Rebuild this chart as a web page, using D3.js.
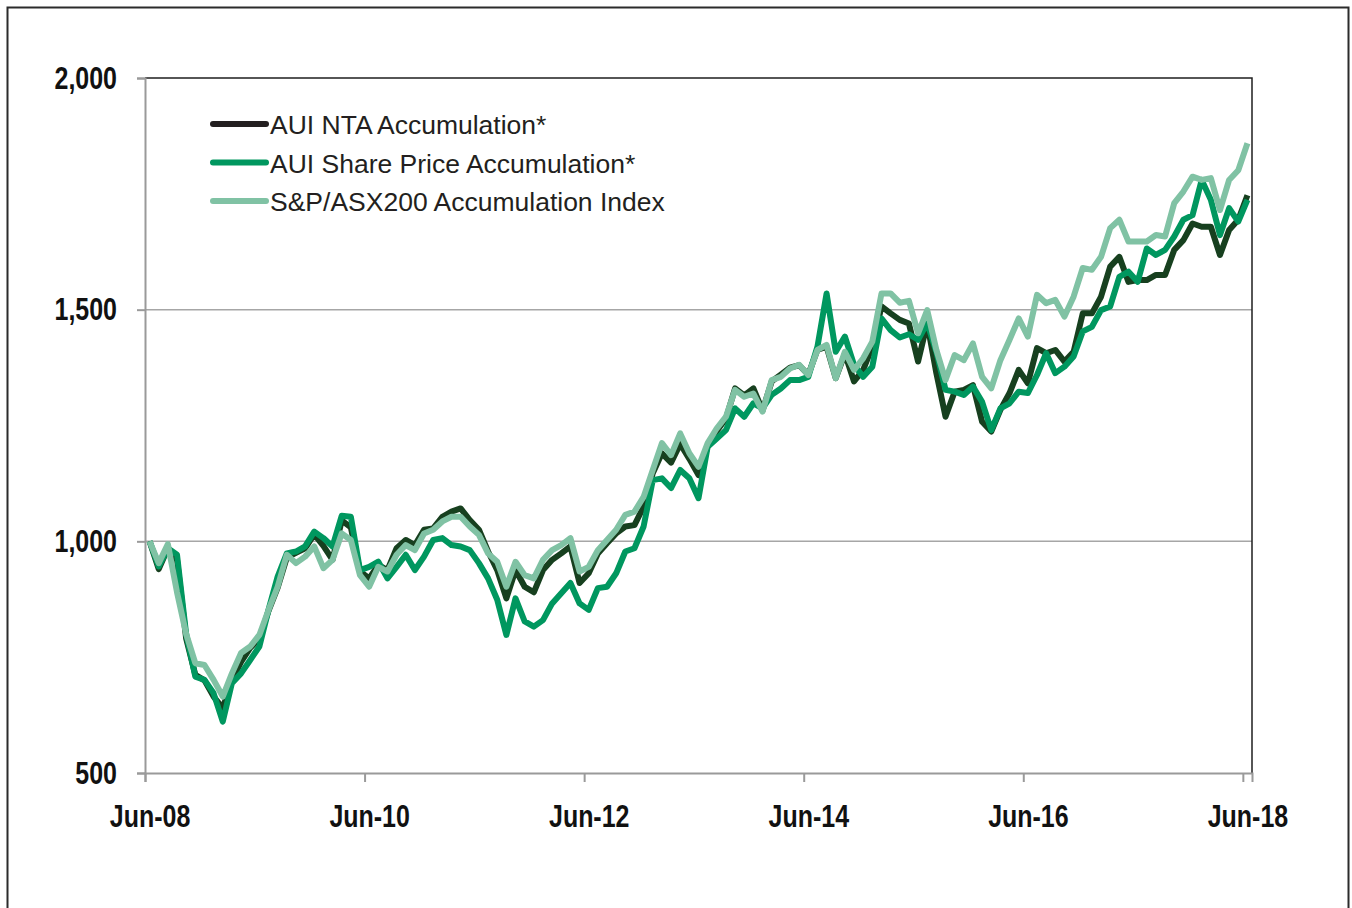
<!DOCTYPE html>
<html>
<head>
<meta charset="utf-8">
<script src="https://cdn.jsdelivr.net/npm/d3@7"></script>
<style>
    body { margin: 0; background: #fff; }
</style>
</head>
<body>
<div id="chart"></div>
<script>
// monthly values, Jun-08 .. Jun-18, rebased to 1,000
const ntaAccum = [
    1000, 940, 985, 960, 790, 712, 700, 665, 640, 700, 740, 770, 790, 850, 900, 965, 975, 985, 1015, 990,
    960, 1045, 1030, 935, 920, 949, 938, 985, 1003, 992, 1025, 1028, 1053, 1064, 1071, 1046, 1025, 978, 938, 877,
    938, 902, 890, 938, 960, 974, 989, 910, 931, 974, 996, 1017, 1032, 1035, 1075, 1147, 1190, 1170, 1210, 1178,
    1143, 1204, 1238, 1265, 1330, 1315, 1330, 1282, 1345, 1360, 1375, 1380, 1360, 1413, 1420, 1352, 1405, 1345, 1370, 1420,
    1507, 1492, 1478, 1470, 1388, 1471, 1363, 1269, 1323, 1327, 1337, 1258, 1237, 1284, 1320, 1370, 1341, 1417, 1406, 1413,
    1388, 1409, 1492, 1492, 1528, 1593, 1614, 1560, 1564, 1564, 1575, 1575, 1629, 1650, 1686, 1679, 1679, 1618, 1672, 1694,
    1747
];
const sharePriceAccum = [
    1000, 946, 985, 971, 800, 708, 701, 672, 611, 694, 715, 744, 773, 852, 924, 974, 978, 989, 1021, 1007,
    989, 1055, 1053, 938, 945, 956, 920, 945, 971, 938, 967, 1003, 1007, 992, 989, 981, 953, 920, 874, 798,
    877, 827, 816, 830, 866, 888, 910, 866, 852, 899, 902, 931, 978, 985, 1032, 1132, 1136, 1115, 1154, 1136,
    1093, 1204, 1222, 1240, 1287, 1269, 1298, 1287, 1316, 1330, 1348, 1348, 1355, 1420, 1535, 1409, 1442, 1381, 1355, 1377,
    1481, 1456, 1440, 1447, 1435, 1471, 1409, 1327, 1323, 1316, 1334, 1301, 1240, 1287, 1298, 1323, 1320, 1359, 1406, 1363,
    1377, 1399, 1453, 1463, 1499, 1507, 1571, 1582, 1560, 1632, 1618, 1629, 1658, 1694, 1704, 1780, 1737, 1661, 1719, 1690,
    1737
];
const asx200Accum = [
    1000, 953, 994, 890, 800, 737, 733, 701, 665, 715, 759, 773, 798, 852, 902, 971, 953, 967, 989, 942,
    960, 1017, 1003, 927, 902, 945, 935, 971, 992, 981, 1017, 1025, 1043, 1053, 1053, 1032, 1014, 974, 956, 902,
    956, 927, 920, 960, 981, 992, 1007, 935, 945, 981, 1003, 1025, 1057, 1064, 1096, 1154, 1212, 1186, 1233, 1190,
    1161, 1212, 1244, 1269, 1327, 1312, 1319, 1280, 1348, 1355, 1373, 1381, 1359, 1413, 1424, 1352, 1409, 1370, 1395, 1431,
    1535, 1535, 1515, 1519, 1449, 1499, 1413, 1348, 1402, 1391, 1427, 1355, 1330, 1391, 1435, 1481, 1442, 1532, 1514, 1521,
    1485, 1528, 1590, 1586, 1614, 1676, 1694, 1647, 1647, 1647, 1661, 1658, 1730, 1755, 1787, 1780, 1784, 1715, 1780, 1801,
    1859
];

const seriesNames = ["AUI NTA Accumulation*", "AUI Share Price Accumulation*", "S&P/ASX200 Accumulation Index"];
const lineColors = ["#17401f", "#00975f", "#80c2a4"];
const legendColors = ["#231f20", "#00975f", "#80c2a4"];
const xTickLabels = ["Jun-08", "Jun-10", "Jun-12", "Jun-14", "Jun-16", "Jun-18"];
const yTickValues = [500, 1000, 1500, 2000];

class AccumChart {
    constructor(parentElement) {
        this.parentElement = parentElement;
        this.initVis();
    }

    initVis() {
        let vis = this;

        vis.width = 1352;
        vis.height = 908;
        vis.plot = {left: 145, right: 1252, top: 78, bottom: 773};

        vis.svg = d3.select("#" + vis.parentElement).append("svg")
            .attr("width", vis.width)
            .attr("height", vis.height);

        // outer frame (bottom edge runs off the picture)
        vis.svg.append("rect")
            .attr("x", 7.5).attr("y", 7.5)
            .attr("width", 1341).attr("height", 940)
            .attr("fill", "none")
            .attr("stroke", "#2b2b2b")
            .attr("stroke-width", 2);

        vis.months = d3.range(ntaAccum.length);

        // categories sit between the tick marks
        vis.x = d3.scaleLinear()
            .domain([0, vis.months.length])
            .range([vis.plot.left, vis.plot.right]);

        vis.y = d3.scaleLinear()
            .domain([500, 2000])
            .range([vis.plot.bottom, vis.plot.top]);

        // gridlines
        vis.svg.append("g").selectAll("line")
            .data([1000, 1500])
            .enter().append("line")
            .attr("x1", vis.plot.left).attr("x2", vis.plot.right)
            .attr("y1", d => vis.y(d)).attr("y2", d => vis.y(d))
            .attr("stroke", "#a6a6a6")
            .attr("stroke-width", 1.5);

        // top + right border of plot box
        vis.svg.append("path")
            .attr("d", `M${vis.plot.left},${vis.plot.top}H${vis.plot.right}V${vis.plot.bottom}`)
            .attr("fill", "none")
            .attr("stroke", "#1f1f1f")
            .attr("stroke-width", 1.5);

        let yAxis = d3.axisLeft(vis.y)
            .tickValues(yTickValues)
            .tickSize(8)
            .tickPadding(20)
            .tickFormat(d3.format(","));

        vis.svg.append("g")
            .attr("class", "y-axis")
            .attr("transform", `translate(${vis.plot.left},0)`)
            .call(yAxis);

        let xAxis = d3.axisBottom(vis.x)
            .tickValues(d3.range(0, vis.months.length, 24))
            .tickSize(9)
            .tickPadding(22)
            .tickFormat((d, i) => xTickLabels[i]);

        vis.svg.append("g")
            .attr("class", "x-axis")
            .attr("transform", `translate(0,${vis.plot.bottom})`)
            .call(xAxis);

        // labels centred on the category, not the tick
        let half = vis.x(0.5) - vis.x(0);
        vis.svg.select(".x-axis").selectAll("text").attr("x", half);

        vis.svg.selectAll(".x-axis path, .y-axis path, .x-axis line, .y-axis line")
            .attr("stroke", "#9a9a9a")
            .attr("stroke-width", 2);

        // narrow bold look: squeeze the glyphs to ~79% width
        vis.svg.selectAll(".x-axis text, .y-axis text")
            .attr("font-family", "'Liberation Sans', Arial, sans-serif")
            .attr("font-weight", "bold")
            .attr("font-size", "32px")
            .attr("fill", "#111")
            .each(function () {
                let len = this.getComputedTextLength();
                d3.select(this)
                    .attr("textLength", len * 0.78)
                    .attr("lengthAdjust", "spacingAndGlyphs");
            });

        vis.line = d3.line()
            .x((d, i) => vis.x(i + 0.5))
            .y(d => vis.y(d));

        vis.wrangleData();
    }

    wrangleData() {
        let vis = this;
        vis.series = [ntaAccum, sharePriceAccum, asx200Accum].map((values, k) => ({
            name: seriesNames[k],
            values: values,
            color: lineColors[k],
            legendColor: legendColors[k]
        }));
        vis.updateVis();
    }

    updateVis() {
        let vis = this;

        vis.svg.append("g").selectAll("path")
            .data(vis.series)
            .enter().append("path")
            .attr("d", d => vis.line(d.values))
            .attr("fill", "none")
            .attr("stroke", d => d.color)
            .attr("stroke-width", 6)
            .attr("stroke-linejoin", "round");

        let legend = vis.svg.append("g")
            .attr("class", "legend")
            .attr("transform", "translate(210,124)");

        let rows = legend.selectAll("g")
            .data(vis.series)
            .enter().append("g")
            .attr("transform", (d, i) => `translate(0,${i * 38.5})`);

        rows.append("line")
            .attr("x1", 3).attr("x2", 56)
            .attr("stroke", d => d.legendColor)
            .attr("stroke-width", 6)
            .attr("stroke-linecap", "round");

        rows.append("text")
            .attr("x", 60)
            .attr("y", 10)
            .attr("font-family", "'Liberation Sans', Arial, sans-serif")
            .attr("font-size", "26.5px")
            .attr("fill", "#231f20")
            .text(d => d.name);
    }
}

new AccumChart("chart");
</script>
</body>
</html>
